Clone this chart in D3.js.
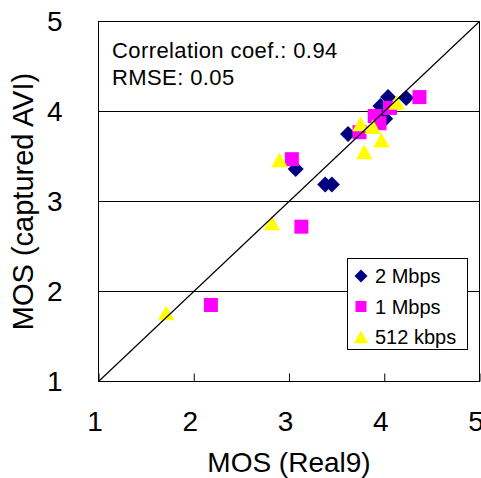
<!DOCTYPE html>
<html>
<head>
<meta charset="utf-8">
<script src="https://cdn.jsdelivr.net/npm/d3@7/dist/d3.min.js"></script>
<style>
  html, body { margin: 0; padding: 0; background: #fff; }
  svg { display: block; font-family: "Liberation Sans", Arial, sans-serif; }
</style>
</head>
<body>
<svg id="chart" width="481" height="478"></svg>
<script>
// MOS from Real9 playback (x) vs. MOS from captured AVI (y), per bit rate
const series = ["2 Mbps", "1 Mbps", "512 kbps"];
const real9_2M  = [4.04, 4.23, 3.96, 4.01, 3.62, 3.07, 3.38, 3.45];
const avi_2M    = [4.16, 4.15, 4.06, 3.92, 3.75, 3.36, 3.19, 3.19];
const real9_1M  = [4.37, 4.06, 3.90, 3.95, 3.74, 3.03, 3.13, 2.18];
const avi_1M    = [4.16, 4.04, 3.95, 3.87, 3.77, 3.47, 2.72, 1.85];
const real9_512 = [4.13, 3.75, 3.88, 3.97, 3.79, 2.90, 2.82, 1.71];
const avi_512   = [4.10, 3.86, 3.83, 3.68, 3.55, 3.46, 2.76, 1.76];
const tickValues = [1, 2, 3, 4, 5];
const gridValues = [2, 3, 4];
const statLines = ["Correlation coef.: 0.94", "RMSE: 0.05"];
const xTitle = "MOS (Real9)";
const yTitle = "MOS (captured AVI)";

const svg = d3.select("#chart");
const x = d3.scaleLinear().domain([1, 5]).range([98.5, 479.5]);
const y = d3.scaleLinear().domain([1, 5]).range([381.5, 21.5]);

// marker shapes, centred on the origin
const shapes = {
  diamond: s => `M0,${-s}L${s},0L0,${s}L${-s},0Z`,
  square: s => `M${-s},${-s}H${s}V${s}H${-s}Z`,
  triangle: s => `M0,${-s}L${s * 1.1},${s * 0.95}L${-s * 1.1},${s * 0.95}Z`
};
const styles = [
  { name: series[0], xs: real9_2M,  ys: avi_2M,  shape: "diamond",  color: "#000080", size: 8,   legendSize: 6.5 },
  { name: series[1], xs: real9_1M,  ys: avi_1M,  shape: "square",   color: "#FF00FF", size: 7,   legendSize: 5.5 },
  { name: series[2], xs: real9_512, ys: avi_512, shape: "triangle", color: "#FFFF00", size: 7.5, legendSize: 6.5 }
];

// horizontal gridlines
svg.append("g").selectAll("line").data(gridValues).join("line")
  .attr("x1", x(1)).attr("x2", x(5))
  .attr("y1", d => y(d)).attr("y2", d => y(d))
  .attr("stroke", "#000").attr("stroke-width", 1);

// x axis: inward ticks, labels below
const xAxis = svg.append("g")
  .attr("transform", `translate(0,${y(1)})`)
  .call(d3.axisBottom(x).tickValues(tickValues).tickSize(-8).tickPadding(30).tickFormat(d3.format("d")));
xAxis.select(".domain").remove();
xAxis.selectAll("line").attr("stroke", "#000");
xAxis.selectAll("text").attr("font-size", 28).attr("dx", -4)
  .attr("font-family", "Liberation Sans, Arial, sans-serif").attr("fill", "#000");

// y axis labels
const yAxis = svg.append("g")
  .attr("transform", `translate(${x(1)},0)`)
  .call(d3.axisLeft(y).tickValues(tickValues).tickSize(0).tickPadding(36).tickFormat(d3.format("d")));
yAxis.select(".domain").remove();
yAxis.selectAll("text").attr("font-size", 28)
  .attr("font-family", "Liberation Sans, Arial, sans-serif").attr("fill", "#000");

// markers
styles.forEach(st => {
  svg.append("g").selectAll("path").data(st.xs.map((v, i) => [v, st.ys[i]])).join("path")
    .attr("d", shapes[st.shape](st.size))
    .attr("transform", d => `translate(${x(d[0])},${y(d[1])})`)
    .attr("fill", st.color);
});

// y = x reference line
svg.append("line")
  .attr("x1", x(1)).attr("y1", y(1)).attr("x2", x(5)).attr("y2", y(5))
  .attr("stroke", "#000").attr("stroke-width", 1.2);

// plot frame
svg.append("rect")
  .attr("x", x(1)).attr("y", y(5))
  .attr("width", x(5) - x(1)).attr("height", y(1) - y(5))
  .attr("fill", "none").attr("stroke", "#000").attr("stroke-width", 1);

// statistics text
svg.append("g").selectAll("text").data(statLines).join("text")
  .attr("x", 112).attr("y", (d, i) => 58 + i * 27)
  .attr("font-size", 22).attr("letter-spacing", 0.4).attr("fill", "#000")
  .text(d => d);

// axis titles
svg.append("text")
  .attr("x", (x(1) + x(5)) / 2).attr("y", 472)
  .attr("text-anchor", "middle").attr("font-size", 28).attr("fill", "#000")
  .text(xTitle);
svg.append("text")
  .attr("transform", `translate(33,${(y(1) + y(5)) / 2}) rotate(-90)`)
  .attr("text-anchor", "middle").attr("font-size", 29).attr("fill", "#000")
  .text(yTitle);

// legend
const legend = svg.append("g").attr("transform", "translate(347.5,258.5)");
legend.append("rect")
  .attr("width", 120).attr("height", 91)
  .attr("fill", "#fff").attr("stroke", "#000").attr("stroke-width", 1);
styles.forEach((st, i) => {
  const cy = 17.5 + i * 30.5;
  legend.append("path")
    .attr("d", shapes[st.shape](st.legendSize))
    .attr("transform", `translate(13.5,${cy})`)
    .attr("fill", st.color);
  legend.append("text")
    .attr("x", 27.5).attr("y", cy + 7)
    .attr("font-size", 20).attr("fill", "#000")
    .text(st.name);
});
</script>
</body>
</html>
